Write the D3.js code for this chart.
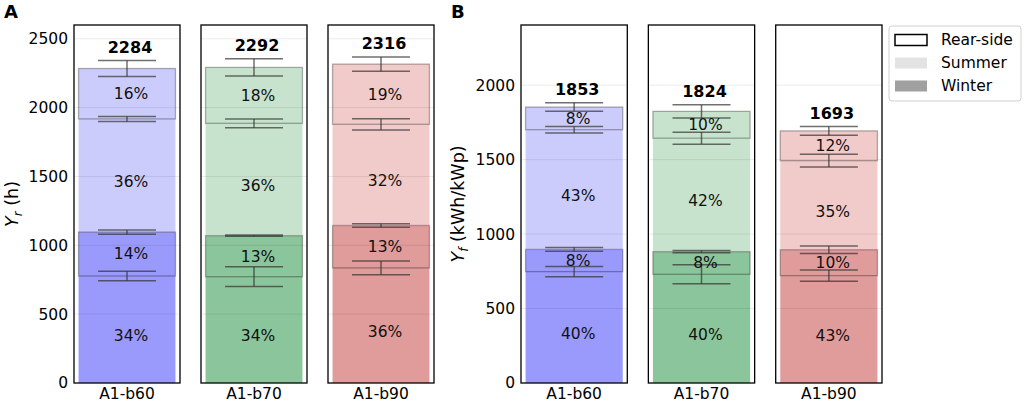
<!DOCTYPE html>
<html>
<head>
<meta charset="utf-8">
<script src="https://cdn.jsdelivr.net/npm/d3@7"></script>
<style>
  body { margin: 0; background: #fff; }
  svg { font-family: "DejaVu Sans", sans-serif; }
</style>
</head>
<body>
<div id="chart"></div>
<script>
// categories (one small facet per configuration)
var categories = ["A1-b60", "A1-b70", "A1-b90"];

// panel A: Yr (h)
var yrWinterFront = [777, 772, 836];
var yrWinterRear = [319, 298, 308];
var yrSummerFront = [822, 816, 735];
var yrSummerRear = [366, 406, 437];
// error bars (+/-) at top of each stacked level
var yrErrWinterFront = [35, 72, 50];
var yrErrWinterRear = [16, 5, 12];
var yrErrSummerFront = [18, 32, 41];
var yrErrSummerRear = [58, 63, 51];
var yrTicks = [0, 500, 1000, 1500, 2000, 2500];

// panel B: Yf (kWh/kWp)
var yfWinterFront = [748, 730, 721];
var yfWinterRear = [149, 152, 174];
var yfSummerFront = [804, 762, 598];
var yfSummerRear = [152, 180, 200];
var yfErrWinterFront = [34, 64, 37];
var yfErrWinterRear = [13, 7, 25];
var yfErrSummerFront = [22, 40, 43];
var yfErrSummerRear = [29, 44, 29];
var yfTicks = [0, 500, 1000, 1500, 2000];

// legend entries
var legendLabels = ["Rear-side", "Summer", "Winter"];

// colours
var summerColors = ["#ccccfc", "#c7e3cd", "#f1caca"];
var winterColors = ["#9a9afc", "#8bc59b", "#e09b9b"];

var svgWidth = 1024;
var svgHeight = 403;

var svg = d3.select("#chart")
  .append("svg")
  .attr("width", svgWidth)
  .attr("height", svgHeight);

function drawPanel(opts) {
  var x = d3.scaleBand()
    .domain(categories)
    .range(opts.xRange)
    .paddingInner(21 / 127)
    .paddingOuter(0);

  var y = d3.scaleLinear()
    .domain(opts.yDomain)
    .range([383, 25]);

  // inner scale to place the bar inside each facet frame
  var inner = d3.scaleBand()
    .domain(["bar"])
    .range([0, x.bandwidth()])
    .paddingOuter(0.047)
    .paddingInner(0);

  var g = svg.append("g");

  categories.forEach(function(cat, i) {
    var fg = g.append("g")
      .attr("transform", `translate(${x(cat)}, 0)`);

    var wf = opts.winterFront[i];
    var wr = opts.winterRear[i];
    var sf = opts.summerFront[i];
    var sr = opts.summerRear[i];
    var levels = [wf, wf + wr, wf + wr + sf, wf + wr + sf + sr];
    var errs = [opts.errWinterFront[i], opts.errWinterRear[i], opts.errSummerFront[i], opts.errSummerRear[i]];
    var total = levels[3];
    var bx = inner("bar");
    var bw = inner.bandwidth();
    var cx = x.bandwidth() / 2;

    // winter bar
    fg.append("rect")
      .attr("x", bx)
      .attr("y", y(levels[1]))
      .attr("width", bw)
      .attr("height", y(0) - y(levels[1]))
      .attr("fill", winterColors[i]);

    // summer bar stacked on top
    fg.append("rect")
      .attr("x", bx)
      .attr("y", y(levels[3]))
      .attr("width", bw)
      .attr("height", y(levels[1]) - y(levels[3]))
      .attr("fill", summerColors[i]);

    // grid lines, faintly visible through the bars
    fg.selectAll(".grid")
      .data(opts.ticks.slice(1))
      .enter()
      .append("line")
      .attr("x1", 0)
      .attr("x2", x.bandwidth())
      .attr("y1", d => y(d))
      .attr("y2", d => y(d))
      .attr("stroke", "#000")
      .attr("stroke-opacity", 0.08)
      .attr("stroke-width", 1);

    // rear-side boxes
    [[levels[0], levels[1]], [levels[2], levels[3]]].forEach(function(r) {
      fg.append("rect")
        .attr("x", bx)
        .attr("y", y(r[1]))
        .attr("width", bw)
        .attr("height", y(r[0]) - y(r[1]))
        .attr("fill", "none")
        .attr("stroke", "#000")
        .attr("stroke-opacity", 0.3)
        .attr("stroke-width", 1.3);
    });

    // error bars
    levels.forEach(function(v, k) {
      var e = errs[k];
      var eg = fg.append("g")
        .attr("stroke", "#333")
        .attr("stroke-opacity", 0.7)
        .attr("stroke-width", 1.5);
      eg.append("line")
        .attr("x1", cx).attr("x2", cx)
        .attr("y1", y(v - e)).attr("y2", y(v + e));
      [v - e, v + e].forEach(function(c) {
        eg.append("line")
          .attr("x1", cx - 29).attr("x2", cx + 29)
          .attr("y1", y(c)).attr("y2", y(c));
      });
    });

    // percentage labels
    var segs = [[0, wf, true], [wf, levels[1], false], [levels[1], levels[2], true], [levels[2], levels[3], false]];
    segs.forEach(function(s) {
      var pct = Math.round((s[1] - s[0]) / total * 100);
      fg.append("text")
        .attr("x", cx + 4)
        .attr("y", y((s[0] + s[1]) / 2) + (s[2] ? 6 : 0))
        .attr("dy", "0.35em")
        .attr("text-anchor", "middle")
        .attr("font-size", "15.5px")
        .attr("fill", "#111")
        .text(pct + "%");
    });

    // total label
    fg.append("text")
      .attr("x", cx + 3)
      .attr("y", y(total + errs[3]) - 8)
      .attr("text-anchor", "middle")
      .attr("font-size", "16px")
      .attr("font-weight", "bold")
      .text(total);

    // facet frame
    fg.append("rect")
      .attr("x", 0)
      .attr("y", 25)
      .attr("width", x.bandwidth())
      .attr("height", y(0) - 25)
      .attr("fill", "none")
      .attr("stroke", "#000")
      .attr("stroke-width", 1.3);

    // category label
    fg.append("text")
      .attr("x", cx)
      .attr("y", 399)
      .attr("text-anchor", "middle")
      .attr("font-size", "15.5px")
      .text(cat);
  });

  // y axis tick labels on the first facet only
  g.selectAll(".ytick")
    .data(opts.ticks)
    .enter()
    .append("text")
    .attr("x", opts.xRange[0] - 6)
    .attr("y", d => y(d))
    .attr("dy", "0.35em")
    .attr("text-anchor", "end")
    .attr("font-size", "15.5px")
    .text(d => d);

  // y axis title with subscript
  var title = g.append("text")
    .attr("transform", `translate(${opts.titleX}, 204) rotate(-90)`)
    .attr("text-anchor", "middle")
    .attr("font-size", "17.5px");
  title.append("tspan").attr("font-style", "italic").text("Y");
  title.append("tspan").attr("font-style", "italic").attr("font-size", "12px").attr("dy", 4).text(opts.sub);
  title.append("tspan").attr("dy", -4).text(" " + opts.unit);

  // panel letter
  g.append("text")
    .attr("x", opts.letterX)
    .attr("y", 18)
    .attr("font-size", "18px")
    .attr("font-weight", "bold")
    .text(opts.letter);
}

drawPanel({
  xRange: [74, 434], yDomain: [0, 2600], ticks: yrTicks,
  winterFront: yrWinterFront, winterRear: yrWinterRear,
  summerFront: yrSummerFront, summerRear: yrSummerRear,
  errWinterFront: yrErrWinterFront, errWinterRear: yrErrWinterRear,
  errSummerFront: yrErrSummerFront, errSummerRear: yrErrSummerRear,
  titleX: 18, sub: "r", unit: "(h)", letter: "A", letterX: 4
});

drawPanel({
  xRange: [521, 882], yDomain: [0, 2404], ticks: yfTicks,
  winterFront: yfWinterFront, winterRear: yfWinterRear,
  summerFront: yfSummerFront, summerRear: yfSummerRear,
  errWinterFront: yfErrWinterFront, errWinterRear: yfErrWinterRear,
  errSummerFront: yfErrSummerFront, errSummerRear: yfErrSummerRear,
  titleX: 464, sub: "f", unit: "(kWh/kWp)", letter: "B", letterX: 451
});

// legend
var legend = svg.append("g").attr("transform", "translate(889, 26)");
legend.append("rect")
  .attr("width", 132).attr("height", 75).attr("rx", 3)
  .attr("fill", "#fff").attr("stroke", "#d0d0d0").attr("stroke-width", 1);

var legendY = d3.scalePoint().domain(legendLabels).range([14, 60]);
var legendFill = { "Rear-side": "#fff", "Summer": "#e3e3e3", "Winter": "#a0a0a0" };

legendLabels.forEach(function(lab) {
  legend.append("rect")
    .attr("x", 6).attr("y", legendY(lab) - 5.5)
    .attr("width", 32).attr("height", 11)
    .attr("fill", legendFill[lab])
    .attr("stroke", lab === "Rear-side" ? "#000" : "none")
    .attr("stroke-width", 1.5);
  legend.append("text")
    .attr("x", 52).attr("y", legendY(lab))
    .attr("dy", "0.35em")
    .attr("font-size", "15.5px")
    .text(lab);
});
</script>
</body>
</html>
